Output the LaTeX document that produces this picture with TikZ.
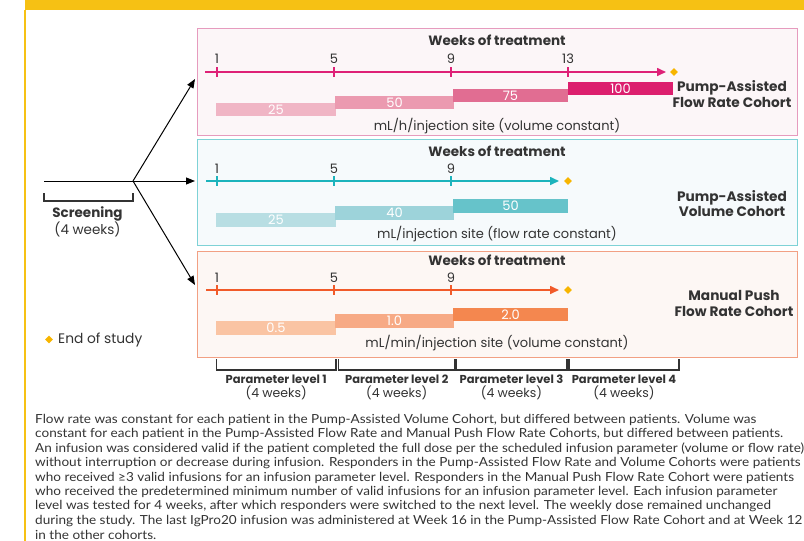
\documentclass[tikz,border=0pt]{standalone}
\usepackage{fontspec}
\setmainfont{Poppins}
\newfontfamily\parafont[FakeStretch=1.085]{Lato}
\usetikzlibrary{arrows.meta,shapes.geometric}
\definecolor{bannerY}{HTML}{F6C114}
\definecolor{dyel}{HTML}{F7B500}
\definecolor{txt}{HTML}{333333}
\definecolor{pkB}{HTML}{E69BBE}
\definecolor{pkF}{HTML}{FCF6F8}
\definecolor{pkL}{HTML}{DE2177}
\definecolor{pk1}{HTML}{F0B5C5}
\definecolor{pk2}{HTML}{EB9AB0}
\definecolor{pk3}{HTML}{E16D92}
\definecolor{pk4}{HTML}{DC1F6E}
\definecolor{tlB}{HTML}{7ED2D6}
\definecolor{tlF}{HTML}{F6FAFC}
\definecolor{tlL}{HTML}{1CB3BC}
\definecolor{tl1}{HTML}{B8DEE3}
\definecolor{tl2}{HTML}{9DD3DA}
\definecolor{tl3}{HTML}{66C3CA}
\definecolor{orB}{HTML}{F2A083}
\definecolor{orF}{HTML}{FDF7F4}
\definecolor{orL}{HTML}{F15A29}
\definecolor{or1}{HTML}{FAC4A3}
\definecolor{or2}{HTML}{F7AA85}
\definecolor{or3}{HTML}{F4874F}
\begin{document}
\begin{tikzpicture}[x=1pt,y=-1pt,
 cbox/.style={draw, line width=1pt, minimum width=600pt, anchor=north west, inner sep=0},
 barn/.style={minimum height=13.5pt, inner sep=0, text=white, font=\fontsize{13}{13}\selectfont},
 tkl/.style={font=\fontsize{13}{13}\selectfont, text=txt, inner sep=0},
 wk/.style={font=\fontsize{13.5}{14}\selectfont\bfseries, text=txt, inner sep=0},
 unit/.style={font=\fontsize{13}{14}\selectfont, text=txt, inner sep=0},
 coh/.style={font=\fontsize{13.7}{15.5}\selectfont\bfseries, text=txt, inner sep=0, align=center},
 tline/.style={line width=1.6pt, -{Triangle[length=9pt,width=8pt]}},
 tk/.style={line width=1.3pt},
 dia/.style={diamond, fill=dyel, minimum size=8pt, inner sep=0},
 conn/.style={line width=1pt, black, -{Triangle[length=9pt,width=7pt]}},
 brk/.style={line width=1.2pt, draw=txt},
 plev/.style={font=\fontsize{12.5}{14}\selectfont, text=txt, inner sep=0, align=center},
 para/.style={font=\parafont\fontsize{12.5}{14}\selectfont, text=txt, inner sep=0, anchor=west},
]
\useasboundingbox (0,0) rectangle (804,541);
% banner
\fill[bannerY] (25,0) rectangle (804,10);
\draw[bannerY, line width=1.3pt] (25,10) -- (25,541);

% ---------- cohort boxes
\node[cbox, draw=pkB, fill=pkF, minimum height=107pt] (b1) at (197,28) {};
\node[cbox, draw=tlB, fill=tlF, minimum height=106pt] (b2) at (197,139) {};
\node[cbox, draw=orB, fill=orF, minimum height=106pt] (b3) at (197,251) {};

% ---------- box 1
\node[wk] (w1) at (497,40) {Weeks of treatment};
\coordinate (t1s) at (205,72);
\coordinate (t1e) at (666,72);
\draw[tline, pkL] (t1s) -- (t1e);
\foreach \x/\l in {217/1,334/5,451/9,568/13}{
  \draw[tk, pkL] (\x,67) -- (\x,77);
  \node[tkl] at (\x,59) {\l};
}
\node[dia] (d1) at (674,72) {};
\node[barn, fill=pk1, minimum width=120pt] (p1) at (276,109.5) {25};
\node[barn, fill=pk2, minimum width=119pt] (p2) at (394.5,102.5) {50};
\node[barn, fill=pk3, minimum width=115pt] (p3) at (510.5,95.5) {75};
\node[barn, fill=pk4, minimum width=105pt] (p4) at (620.5,88.5) {100};
\node[coh] (c1) at (732,94) {Pump-Assisted\\Flow Rate Cohort};
\node[unit] (u1) at (497,126) {mL/h/injection site (volume constant)};

% ---------- box 2
\node[wk] (w2) at (497,151) {Weeks of treatment};
\coordinate (t2s) at (206,181);
\coordinate (t2e) at (559,181);
\draw[tline, tlL] (t2s) -- (t2e);
\foreach \x/\l in {217/1,334/5,451/9}{
  \draw[tk, tlL] (\x,176) -- (\x,186);
  \node[tkl] at (\x,169) {\l};
}
\node[dia] (d2) at (568,181) {};
\node[barn, fill=tl1, minimum width=120pt] (q1) at (276,220) {25};
\node[barn, fill=tl2, minimum width=119pt] (q2) at (394.5,213) {40};
\node[barn, fill=tl3, minimum width=115pt] (q3) at (510.5,206) {50};
\node[coh] (c2) at (732,203.5) {Pump-Assisted\\Volume Cohort};
\node[unit] (u2) at (497,234) {mL/injection site (flow rate constant)};

% ---------- box 3
\node[wk] (w3) at (497,260.5) {Weeks of treatment};
\coordinate (t3s) at (206,290);
\coordinate (t3e) at (559,290);
\draw[tline, orL] (t3s) -- (t3e);
\foreach \x/\l in {217/1,334/5,451/9}{
  \draw[tk, orL] (\x,285) -- (\x,295);
  \node[tkl] at (\x,277.5) {\l};
}
\node[dia] (d3) at (568,290) {};
\node[barn, fill=or1, minimum width=120pt] (r1) at (276,328) {0.5};
\node[barn, fill=or2, minimum width=119pt] (r2) at (394.5,321) {1.0};
\node[barn, fill=or3, minimum width=115pt] (r3) at (510.5,314.5) {2.0};
\node[coh] (c3) at (734,303.5) {Manual Push\\Flow Rate Cohort};
\node[unit] (u3) at (497,343) {mL/min/injection site (volume constant)};

% ---------- screening and branches
\coordinate (scr) at (44,181);
\coordinate (br) at (133,181);
\coordinate (a1) at (195,79);
\coordinate (a2) at (195,181);
\coordinate (a3) at (195,285);
\draw[line width=1pt] (scr) -- (br);
\draw[conn] (br) -- (a1);
\draw[conn] (br) -- (a2);
\draw[conn] (br) -- (a3);
\coordinate (sb1) at (44,193);
\coordinate (sb2) at (133,193);
\draw[brk] (sb1) -- ++(0,8) -- ++(89,0) -- (sb2);
\node[plev, font=\fontsize{13.5}{15.5}\selectfont] (scrl) at (87.5,222) {\textbf{Screening}\\(4 weeks)};

% end of study legend
\node[dia] (leg) at (49,339.5) {};
\node[tkl, anchor=west, font=\fontsize{13.8}{14}\selectfont] (legt) at (58,340) {End of study};

% ---------- parameter level brackets
\foreach \a/\b/\n in {216.5/336/1,338.5/455/2,456/567/3,569/679/4}{
  \draw[brk] (\a,359) -- (\a,370) -- (\b,370) -- (\b,359);
  \node[plev] (pl\n) at ({(\a+\b)/2},387) {{\fontsize{11.5}{14}\selectfont\bfseries Parameter level \n}\\(4 weeks)};
}

% ---------- footnote
\foreach \i/\t in {
 0/{Flow rate was constant for each patient in the Pump-Assisted Volume Cohort, but differed between patients. Volume was},
 1/{constant for each patient in the Pump-Assisted Flow Rate and Manual Push Flow Rate Cohorts, but differed between patients.},
 2/{An infusion was considered valid if the patient completed the full dose per the scheduled infusion parameter (volume or flow rate)},
 3/{without interruption or decrease during infusion. Responders in the Pump-Assisted Flow Rate and Volume Cohorts were patients},
 4/{who received ≥3 valid infusions for an infusion parameter level. Responders in the Manual Push Flow Rate Cohort were patients},
 5/{who received the predetermined minimum number of valid infusions for an infusion parameter level. Each infusion parameter},
 6/{level was tested for 4 weeks, after which responders were switched to the next level. The weekly dose remained unchanged},
 7/{during the study. The last IgPro20 infusion was administered at Week 16 in the Pump-Assisted Flow Rate Cohort and at Week 12},
 8/{in the other cohorts.}}{
  \node[para] (f\i) at (35,{420+14.4*\i}) {\t};
}
\end{tikzpicture}
\end{document}
